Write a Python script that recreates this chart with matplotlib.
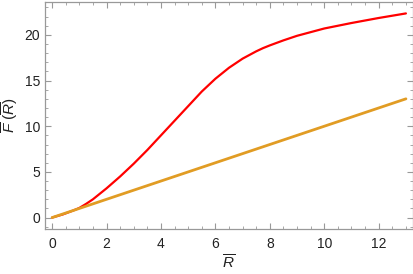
import matplotlib
matplotlib.use("Agg")
import matplotlib.pyplot as plt
from matplotlib.ticker import MultipleLocator

# Data
R_red = [0, 0.4, 0.8, 1.0, 1.25, 1.5, 1.75, 2.0, 2.5, 3.0, 3.5, 4.0, 4.5, 5.0, 5.5,
         6.0, 6.5, 7.0, 7.25, 7.5, 7.75, 8.0, 8.5, 9.0, 9.5, 10.0, 11.0, 12.0, 13.0]
F_red = [0, 0.35, 0.8, 1.05, 1.5, 2.0, 2.6, 3.2, 4.5, 5.9, 7.4, 9.0, 10.6, 12.2, 13.8,
         15.2, 16.4, 17.4, 17.8, 18.2, 18.55, 18.85, 19.4, 19.9, 20.3, 20.7, 21.3, 21.85, 22.35]
R_lin = [0, 13]
F_lin = [0, 13]

plt.rcParams['font.family'] = ['Liberation Sans', 'DejaVu Sans']
plt.rcParams['mathtext.fontset'] = 'custom'
plt.rcParams['mathtext.rm'] = 'Liberation Sans'
plt.rcParams['mathtext.it'] = 'Liberation Sans:italic'

fig = plt.figure(figsize=(4.14, 2.74), dpi=100)
ax = fig.add_axes([45/414, 1 - 229/274, 368/414, 227/274])

ax.plot(R_red, F_red, color='#FF0000', lw=1.6, solid_capstyle='round',
        solid_joinstyle='round', zorder=2)
ax.plot(R_lin, F_lin, color='#E19C24', lw=2.0, solid_capstyle='round', zorder=3)

ax.set_xlim(-0.26, 13.26)
ax.set_ylim(-1.25, 23.6)
ax.xaxis.set_major_locator(MultipleLocator(2))
ax.xaxis.set_minor_locator(MultipleLocator(0.5))
ax.yaxis.set_major_locator(MultipleLocator(5))
ax.yaxis.set_minor_locator(MultipleLocator(1))

for s in ax.spines.values():
    s.set_color('#999999')
    s.set_linewidth(0.9)
ax.tick_params(which='both', direction='in', top=True, right=True, color='#999999',
               labelsize=10, labelcolor='#222222')
ax.tick_params(which='major', length=4, width=0.8)
ax.tick_params(which='minor', length=2.3, width=0.6)
ax.tick_params(axis='x', pad=6)

ax.set_xlabel(r'$\overline{R}$', fontsize=11, color='#222222', labelpad=2)
ax.set_ylabel(r'$\overline{F}\ (\overline{R})$', fontsize=11, color='#222222', labelpad=3)

fig.savefig('out.png', dpi=100)
